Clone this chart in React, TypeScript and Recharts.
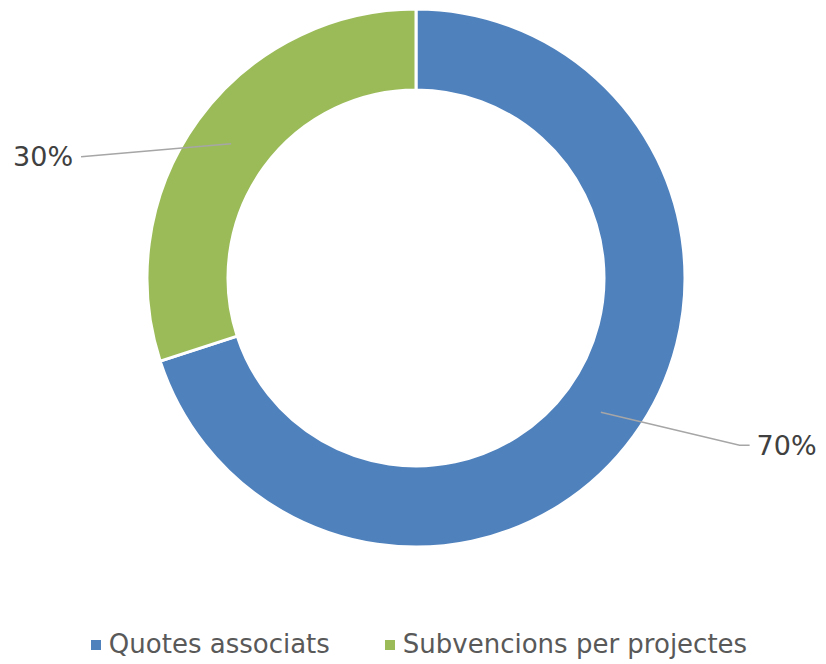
import { PieChart, Pie, Cell } from 'recharts'

const categories = ['Quotes associats', 'Subvencions per projectes']
const shares = [70, 30]
const colors = ['#4f81bd', '#9bbb59']

const FONT = '"DejaVu Sans", Verdana, sans-serif'
const RAD = Math.PI / 180

function renderLabel(props: any) {
  const { cx, cy, midAngle, innerRadius, outerRadius, percent } = props
  const cos = Math.cos(-midAngle * RAD)
  const sin = Math.sin(-midAngle * RAD)
  const r = (innerRadius + outerRadius) / 2
  const mx = cx + r * cos
  const my = cy + r * sin
  const right = cos >= 0
  const ex = cx + cos * (right ? 400 : 414)
  const ey = my + 23 + 17 * sin
  const tail = right ? ex + 10 : ex
  return (
    <g>
      <polyline
        points={`${mx},${my} ${ex},${ey} ${tail},${ey}`}
        fill="none"
        stroke="#a6a6a6"
        strokeWidth={1.5}
      />
      <text
        x={right ? tail + 7 : ex - 8}
        y={ey}
        textAnchor={right ? 'start' : 'end'}
        dominantBaseline="central"
        fontSize={27}
        fontFamily={FONT}
        fill="#404040"
      >
        {`${Math.round(percent * 100)}%`}
      </text>
    </g>
  )
}

export default function App() {
  const data = categories.map((name, i) => ({ name, value: shares[i] }))

  return (
    <div style={{ position: 'absolute', left: 0, top: 0, width: 826, height: 664, background: '#fff' }}>
      <PieChart width={826} height={664} margin={{ top: 0, right: 0, bottom: 0, left: 0 }}>
        <Pie
          data={data}
          dataKey="value"
          nameKey="name"
          cx={416}
          cy={278}
          innerRadius={188}
          outerRadius={269}
          startAngle={90}
          endAngle={-270}
          stroke="#ffffff"
          strokeWidth={3}
          label={renderLabel}
          labelLine={false}
          isAnimationActive={false}
        >
          {data.map((_, idx) => (
            <Cell key={idx} fill={colors[idx]} />
          ))}
        </Pie>
      </PieChart>
      <div
        style={{
          position: 'absolute',
          left: 0,
          top: 626,
          width: 838,
          display: 'flex',
          justifyContent: 'center',
          gap: 55,
          fontFamily: FONT,
          fontSize: 26,
          color: '#595959',
          lineHeight: '36px',
        }}
      >
        {categories.map((name, i) => (
          <div key={name} style={{ display: 'flex', alignItems: 'center' }}>
            <span style={{ width: 10, height: 10, background: colors[i], marginRight: 8, marginTop: 2 }} />
            <span>{name}</span>
          </div>
        ))}
      </div>
    </div>
  )
}
